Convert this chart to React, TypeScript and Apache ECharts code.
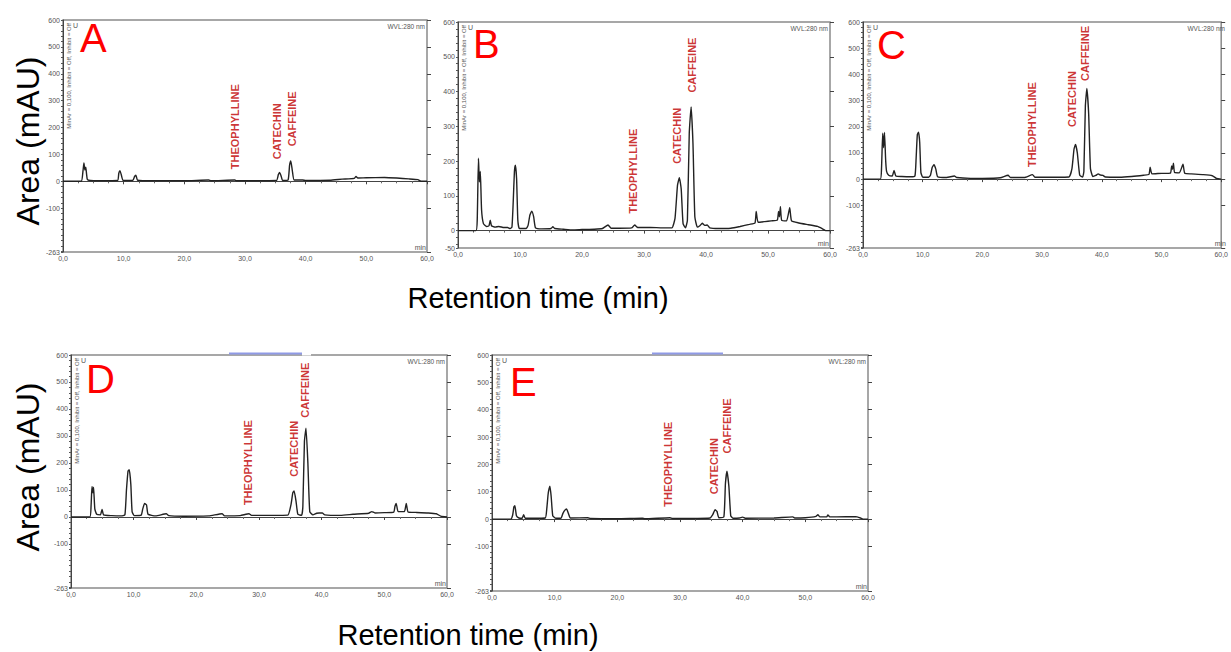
import React, { useEffect, useRef } from "react";
import * as echarts from "echarts";

// ---------- DATA ----------
const panelLetters = ["A", "B", "C", "D", "E"];

const traceA: [number, number][] = [
  [0, 0], [3.0, 0], [3.3, 40], [3.45, 68], [3.6, 42], [3.75, 52], [4.0, 8], [4.5, 3], [6, 2], [9.0, 3],
  [9.2, 30], [9.4, 39], [9.6, 25], [9.9, 3], [11.5, 3], [11.8, 18], [12.0, 23], [12.3, 4], [15, 2], [20, 2],
  [24, 5], [24.4, 2], [28.3, 5], [28.6, 2], [35.2, 3], [35.5, 25], [35.7, 33], [35.95, 20], [36.2, 3],
  [37.1, 5], [37.35, 60], [37.55, 76], [37.8, 40], [38.1, 5], [39.5, 5], [40, 3], [44, 4], [46, 8],
  [48, 11], [48.3, 18], [48.6, 12], [50, 13], [53, 14], [55, 12], [57, 9], [58.5, 6], [59, 0], [60, 0],
];

const traceB: [number, number][] = [
  [0, 0], [2.9, 0], [3.1, 30], [3.3, 208], [3.45, 140], [3.6, 170], [3.8, 60], [4.1, 20], [4.6, 12],
  [5.0, 14], [5.2, 30], [5.4, 14], [6.0, 10], [6.6, 12], [7.4, 9], [8.0, 9], [8.4, 6], [8.7, 10],
  [8.9, 80], [9.1, 170], [9.25, 188], [9.45, 150], [9.65, 30], [9.9, 6], [11.0, 6], [11.3, 15],
  [11.6, 45], [11.9, 56], [12.2, 40], [12.5, 8], [13.5, 5], [15.0, 6], [15.3, 11], [15.6, 6], [17, 4],
  [18.5, 2], [20, 3], [22, 4], [23.3, 6], [24.2, 16], [24.7, 7], [26, 7], [28, 8], [28.5, 16], [29, 9],
  [31, 9], [33, 8], [34.5, 8], [35.0, 35], [35.4, 130], [35.7, 152], [36.0, 120], [36.3, 20], [36.7, 8],
  [37.0, 30], [37.3, 280], [37.6, 356], [37.9, 250], [38.2, 40], [38.6, 10], [39.0, 14], [39.4, 21],
  [39.8, 15], [40.2, 16], [40.6, 8], [42, 6], [44, 7], [45.5, 12], [47, 18], [47.9, 22], [48.1, 55],
  [48.4, 24], [49.5, 26], [50.5, 28], [51.5, 30], [51.7, 55], [51.85, 40], [52.0, 69], [52.2, 30],
  [53.0, 28], [53.5, 66], [53.8, 28], [55, 22], [56.5, 17], [58, 12], [58.8, 5], [59.3, 0], [60, 0],
];

const traceC: [number, number][] = [
  [0, 0], [2.9, 0], [3.1, 40], [3.3, 175], [3.45, 120], [3.6, 178], [3.8, 70], [3.95, 30], [4.3, 15],
  [4.9, 12], [5.2, 33], [5.5, 12], [6.5, 10], [8, 9], [8.7, 12], [8.9, 80], [9.1, 170], [9.3, 179],
  [9.5, 140], [9.7, 25], [10, 8], [11, 7], [11.3, 15], [11.6, 45], [11.9, 55], [12.2, 38], [12.5, 9],
  [14, 6], [15.3, 12], [15.7, 6], [18, 3], [20, 3], [23, 5], [24.3, 15], [24.7, 6], [27, 6], [28.4, 17],
  [28.8, 7], [31, 7], [34.5, 8], [35.0, 40], [35.35, 115], [35.6, 132], [35.9, 100], [36.3, 15],
  [36.8, 8], [37.0, 30], [37.25, 280], [37.5, 346], [37.8, 250], [38.1, 40], [38.5, 10], [39.0, 14],
  [39.4, 20], [39.8, 15], [40.2, 14], [40.6, 8], [43, 7], [45, 10], [47, 15], [47.9, 18], [48.1, 46],
  [48.4, 20], [50, 22], [51.5, 23], [51.7, 50], [51.85, 38], [52.0, 61], [52.2, 25], [53, 24],
  [53.6, 57], [53.9, 22], [55, 20], [57, 17], [58.5, 13], [59.2, 3], [60, 0],
];

const traceD: [number, number][] = [
  [0, 0], [3.0, 0], [3.2, 40], [3.35, 113], [3.5, 90], [3.6, 110], [3.8, 30], [4.1, 10], [4.7, 8],
  [4.95, 28], [5.2, 8], [6.5, 5], [8, 4], [8.6, 8], [8.85, 100], [9.1, 170], [9.3, 175], [9.55, 120],
  [9.75, 20], [10.1, 5], [11.2, 7], [11.45, 30], [11.75, 50], [12.05, 45], [12.3, 10], [13.5, 4],
  [15.2, 12], [15.6, 5], [18, 3], [22, 4], [24.1, 12], [24.5, 4], [27, 5], [28.4, 12], [28.8, 6],
  [32, 6], [34.6, 7], [35.1, 45], [35.4, 90], [35.6, 96], [35.9, 60], [36.2, 10], [36.8, 6],
  [37.0, 40], [37.25, 280], [37.5, 329], [37.8, 200], [38.1, 20], [38.6, 8], [39.2, 14], [39.6, 15],
  [40.1, 15], [40.5, 8], [43, 6], [45, 10], [47.5, 14], [48, 20], [48.5, 15], [50, 16], [51.5, 18],
  [51.7, 40], [51.9, 50], [52.2, 20], [53.2, 20], [53.5, 50], [53.8, 18], [55, 17], [57, 15],
  [58.3, 12], [59, 3], [60, 0],
];

const traceE: [number, number][] = [
  [0, 0], [3.0, 0], [3.3, 15], [3.5, 45], [3.65, 49], [3.9, 12], [4.3, 4], [4.8, 3], [5.05, 16],
  [5.3, 3], [6.5, 3], [8.5, 4], [8.75, 40], [8.95, 90], [9.1, 110], [9.25, 120], [9.45, 80], [9.7, 12],
  [10.2, 3], [11, 3], [11.3, 20], [11.6, 32], [11.9, 37], [12.2, 20], [12.5, 4], [15.3, 5], [15.7, 2],
  [20, 1], [24, 3], [24.4, 1], [28.4, 5], [28.8, 2], [34.8, 4], [35.2, 15], [35.6, 34], [35.9, 28],
  [36.2, 5], [37.0, 8], [37.25, 130], [37.5, 175], [37.8, 120], [38.1, 12], [38.5, 3], [39.5, 4],
  [40, 7], [40.4, 3], [45, 4], [48, 8], [48.3, 4], [50, 5], [51.7, 10], [52, 16], [52.3, 8], [53.4, 8],
  [53.6, 15], [53.9, 8], [55, 8], [58, 9], [58.8, 4], [59.2, 0], [60, 0],
];

// compound labels: [name, retention time, value at label start]
const compoundsA: [string, number, number][] = [["THEOPHYLLINE", 28.35, 45], ["CATECHIN", 35.27, 82], ["CAFFEINE", 37.75, 130]];
const compoundsB: [string, number, number][] = [["THEOPHYLLINE", 28.18, 49], ["CATECHIN", 35.32, 192], ["CAFFEINE", 37.69, 397]];
const compoundsC: [string, number, number][] = [["THEOPHYLLINE", 28.35, 46], ["CATECHIN", 35.06, 199], ["CAFFEINE", 37.2, 375]];
const compoundsD: [string, number, number][] = [["THEOPHYLLINE", 28.24, 44], ["CATECHIN", 35.63, 149], ["CAFFEINE", 37.34, 368]];
const compoundsE: [string, number, number][] = [["THEOPHYLLINE", 28.13, 45], ["CATECHIN", 35.47, 91], ["CAFFEINE", 37.45, 240]];

const yMins = [-263, -50, -263, -263, -263];
const yMax = 600;
const yLabelsFull = [-263, -100, 0, 100, 200, 300, 400, 500, 600];
const yLabelsB = [-50, 0, 100, 200, 300, 400, 500, 600];
const xMin = 0;
const xMax = 60;
const xInterval = 10;

const yTitle = "Area (mAU)";
const xTitle = "Retention time (min)";
const wvlText = "WVL:280 nm";
const infoText = "MinAr = 0,100, Inhibit = Off, Inhibit = Off";

// ---------- LAYOUT ----------
const grids = [
  { left: 63, top: 20, width: 364, height: 232 },
  { left: 458, top: 22, width: 372, height: 226 },
  { left: 863, top: 22, width: 364, height: 226 },
  { left: 71, top: 355, width: 376, height: 233 },
  { left: 492, top: 355, width: 376, height: 236 },
];
const letterPos = [
  { x: 80, y: 38 },
  { x: 473, y: 44 },
  { x: 877, y: 45 },
  { x: 86, y: 379 },
  { x: 510, y: 382 },
];

const FONT = "'Liberation Sans', Arial, Helvetica, sans-serif";

function minorTicks(min: number): number[] {
  const out: number[] = [min];
  const start = Math.ceil(min / 20) * 20;
  for (let v = start; v <= yMax; v += 20) if (v !== min) out.push(v);
  return out;
}

export default function App() {
  const ref = useRef<HTMLDivElement>(null);

  useEffect(() => {
    document.body.style.margin = "0";
    if (!ref.current) return;
    const chart = echarts.init(ref.current, undefined, { renderer: "svg" });

    const traces = [traceA, traceB, traceC, traceD, traceE];
    const compounds = [compoundsA, compoundsB, compoundsC, compoundsD, compoundsE];

    const gridOpt: any[] = [];
    const xAxes: any[] = [];
    const yAxes: any[] = [];
    const series: any[] = [];
    const graphics: any[] = [];

    grids.forEach((g, i) => {
      gridOpt.push({
        left: g.left,
        top: g.top,
        width: g.width,
        height: g.height,
        show: true,
        borderColor: "#8a8a8a",
        borderWidth: 1.5,
        backgroundColor: "#fff",
      });
      xAxes.push({
        type: "value",
        gridIndex: i,
        min: xMin,
        max: xMax,
        interval: xInterval,
        axisLine: { show: true, lineStyle: { color: "#444", width: 1 } },
        axisTick: { show: true, length: 3, lineStyle: { color: "#444" } },
        minorTick: { show: true, splitNumber: 4, length: 2, lineStyle: { color: "#666" } },
        splitLine: { show: false },
        axisLabel: {
          color: "#555",
          fontSize: 7,
          fontFamily: FONT,
          margin: 3,
          formatter: (v: number) => v.toFixed(1).replace(".", ","),
        },
      });
      const labels = i === 1 ? yLabelsB : yLabelsFull;
      yAxes.push({
        type: "value",
        gridIndex: i,
        min: yMins[i],
        max: yMax,
        axisLine: { show: true, lineStyle: { color: "#444", width: 1 } },
        axisTick: { show: true, length: 2, customValues: minorTicks(yMins[i]), lineStyle: { color: "#555" } },
        splitLine: { show: false },
        axisLabel: {
          color: "#555",
          fontSize: 7,
          fontFamily: FONT,
          margin: 3,
          customValues: labels,
          formatter: (v: number) => String(Math.round(v)),
        },
      });
      yAxes.push({
        type: "value",
        gridIndex: i,
        min: yMins[i],
        max: yMax,
        axisLine: { show: false },
        axisTick: { show: true, length: 4, customValues: labels, lineStyle: { color: "#444" } },
        axisLabel: { show: false },
        splitLine: { show: false },
      });
      series.push({
        type: "line",
        xAxisIndex: i,
        yAxisIndex: i * 2,
        data: traces[i],
        showSymbol: false,
        symbol: "none",
        smooth: 0.15,
        lineStyle: { color: "#222", width: 1.4 },
        z: 3,
      });
      series.push({
        type: "scatter",
        xAxisIndex: i,
        yAxisIndex: i * 2,
        data: compounds[i].map((c) => [c[1], c[2], c[0]]),
        symbolSize: 1,
        itemStyle: { color: "rgba(0,0,0,0)" },
        label: {
          show: true,
          position: "inside",
          rotate: 90,
          align: "left",
          verticalAlign: "middle",
          color: "#c00000",
          fontWeight: "bold",
          fontSize: 11,
          fontFamily: FONT,
          formatter: (p: any) => p.data[2],
        },
        z: 4,
      });

      // panel decorations
      graphics.push({
        type: "text",
        x: letterPos[i].x,
        y: letterPos[i].y,
        style: {
          text: panelLetters[i],
          fill: "#ff0000",
          fontSize: 40,
          fontFamily: FONT,
          textAlign: "left",
          textVerticalAlign: "middle",
        },
        z: 10,
      });
      graphics.push({
        type: "text",
        x: g.left + g.width - 2,
        y: g.top + 3,
        style: { text: wvlText, fill: "#555", fontSize: 6.5, fontFamily: FONT, textAlign: "right", textVerticalAlign: "top" },
        z: 10,
      });
      graphics.push({
        type: "text",
        x: g.left + g.width - 1,
        y: g.top + g.height - 1,
        style: { text: "min", fill: "#555", fontSize: 7, fontFamily: FONT, textAlign: "right", textVerticalAlign: "bottom" },
        z: 10,
      });
      graphics.push({
        type: "text",
        x: g.left + 10,
        y: g.top + 2,
        style: { text: "U", fill: "#555", fontSize: 7, fontFamily: FONT, textAlign: "left", textVerticalAlign: "top" },
        z: 10,
      });
      graphics.push({
        type: "text",
        x: g.left + 6,
        y: g.top + 3,
        rotation: Math.PI / 2,
        style: { text: infoText, fill: "#555", fontSize: 6, fontFamily: FONT, textAlign: "right", textVerticalAlign: "middle" },
        z: 10,
      });
    });

    // blue scrollbar marks at the top of D and E
    graphics.push({
      type: "line",
      shape: { x1: 229, y1: 353.5, x2: 302, y2: 353.5 },
      style: { stroke: "#8f9ae6", lineWidth: 2 },
      z: 11,
    });
    graphics.push({
      type: "line",
      shape: { x1: 302, y1: 354.5, x2: 311, y2: 354.5 },
      style: { stroke: "#ffffff", lineWidth: 2 },
      z: 11,
    });
    graphics.push({
      type: "line",
      shape: { x1: 652, y1: 353.5, x2: 723, y2: 353.5 },
      style: { stroke: "#8f9ae6", lineWidth: 2 },
      z: 11,
    });

    // axis titles
    const titleStyle = { fill: "#000", fontFamily: FONT, textAlign: "center", textVerticalAlign: "middle" };
    graphics.push({ type: "text", x: 28, y: 141, rotation: Math.PI / 2, style: { ...titleStyle, text: yTitle, fontSize: 32 } });
    graphics.push({ type: "text", x: 28, y: 467, rotation: Math.PI / 2, style: { ...titleStyle, text: yTitle, fontSize: 32 } });
    graphics.push({ type: "text", x: 538, y: 298, style: { ...titleStyle, text: xTitle, fontSize: 29 } });
    graphics.push({ type: "text", x: 468, y: 635, style: { ...titleStyle, text: xTitle, fontSize: 29 } });

    chart.setOption({
      animation: false,
      backgroundColor: "#fff",
      grid: gridOpt,
      xAxis: xAxes,
      yAxis: yAxes,
      series,
      graphic: graphics,
    });

    return () => chart.dispose();
  }, []);

  return <div ref={ref} style={{ width: 1231, height: 652 }} />;
}
